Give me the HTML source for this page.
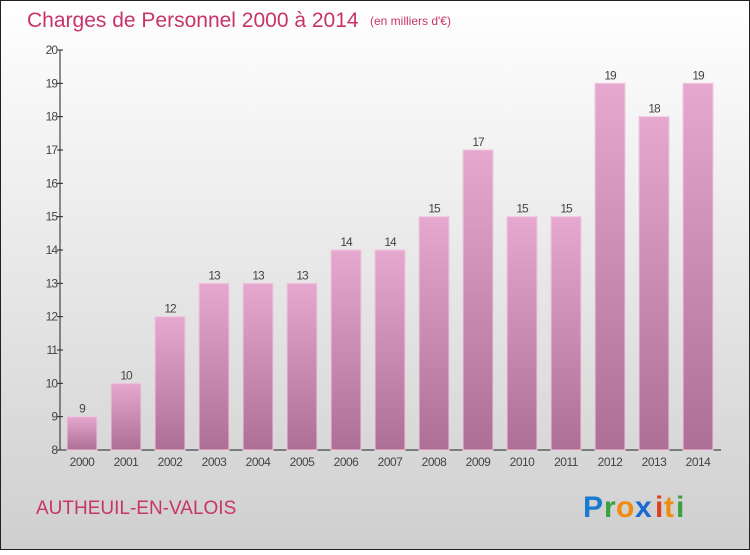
<!DOCTYPE html>
<html><head><meta charset="utf-8"><style>
body{margin:0;width:750px;height:550px;overflow:hidden;font-family:"Liberation Sans",sans-serif}
</style></head><body>
<svg width="750" height="550" xmlns="http://www.w3.org/2000/svg">
<defs>
<linearGradient id="bg" x1="0" y1="0" x2="0" y2="1"><stop offset="0" stop-color="#ffffff"/><stop offset="1" stop-color="#cfcfcf"/></linearGradient>
<linearGradient id="bar" x1="0" y1="0" x2="0" y2="1"><stop offset="0" stop-color="#e6a8cf"/><stop offset="1" stop-color="#ad6f93"/></linearGradient>
</defs>
<rect x="0.5" y="0.5" width="749" height="549" fill="url(#bg)" stroke="#222"/>
<text x="27" y="27" font-size="21" fill="#c8336a">Charges de Personnel 2000 à 2014</text>
<text x="370" y="25" font-size="12" fill="#c8336a">(en milliers d'€)</text>
<g id="axes"></g>
<g id="bars"></g>
<text x="36" y="514" font-size="19" fill="#c8336a">AUTHEUIL-EN-VALOIS</text>
<g font-size="30" font-weight="bold" font-family="'Liberation Sans',sans-serif">
<text x="583" y="517" fill="#1a7ad0">P</text><text x="604" y="517" fill="#3aa040">r</text><text x="616" y="517" fill="#f08a10">o</text><text x="635" y="517" fill="#1a6ad0">x</text><text x="655" y="517" fill="#e04020">i</text><text x="664" y="517" fill="#f08a10">t</text><text x="676" y="517" fill="#3aa040">i</text>
</g>
</svg>
<script>
const years=["2000","2001","2002","2003","2004","2005","2006","2007","2008","2009","2010","2011","2012","2013","2014"];
const values=[9,10,12,13,13,13,14,14,15,17,15,15,19,18,19];
const yTicks=[8,9,10,11,12,13,14,15,16,17,18,19,20];
const NS="http://www.w3.org/2000/svg";
const y0=450,y1=50,vmin=8,vmax=20,x0=60,step=44,bw=30;
const Y=v=>y0-(v-vmin)/(vmax-vmin)*(y0-y1);
const X=i=>82+i*step;
function mk(t,a,p){const e=document.createElementNS(NS,t);for(const k in a)e.setAttribute(k,a[k]);p.appendChild(e);return e;}
const ax=document.getElementById('axes'),bg=document.getElementById('bars');
const yl=mk('line',{x1:x0,y1:y1,x2:x0,y2:y0,stroke:'#222'},ax);


const xl=mk('line',{x1:x0,y1:y0,x2:721,y2:y0,stroke:'#222'},ax);


yTicks.forEach(v=>{
 mk('line',{x1:x0-3,y1:Y(v),x2:x0+3,y2:Y(v),stroke:'#222'},ax);
 const t=mk('text',{x:x0-3,y:Y(v)+4,'text-anchor':'end','font-size':12,fill:'#444','letter-spacing':'-1'},ax);
 
 
 t.textContent=v;
});
years.forEach((yr,i)=>{
 const v=values[i];
 const r=mk('rect',{x:X(i)-bw/2,y:Y(v),width:bw,height:y0-Y(v),fill:'url(#bar)',stroke:'#f0c8e0','stroke-width':1},bg);
 
 
 const l=mk('text',{x:X(i),y:Y(v)-4,'text-anchor':'middle','font-size':12,fill:'#444','letter-spacing':'-1'},bg);
 
 
 l.textContent=v;
 const xt=mk('text',{x:X(i),y:466,'text-anchor':'middle','font-size':12,fill:'#444','letter-spacing':'-0.5'},ax);
 
 
 xt.textContent=yr;
});
</script>
</body></html>
